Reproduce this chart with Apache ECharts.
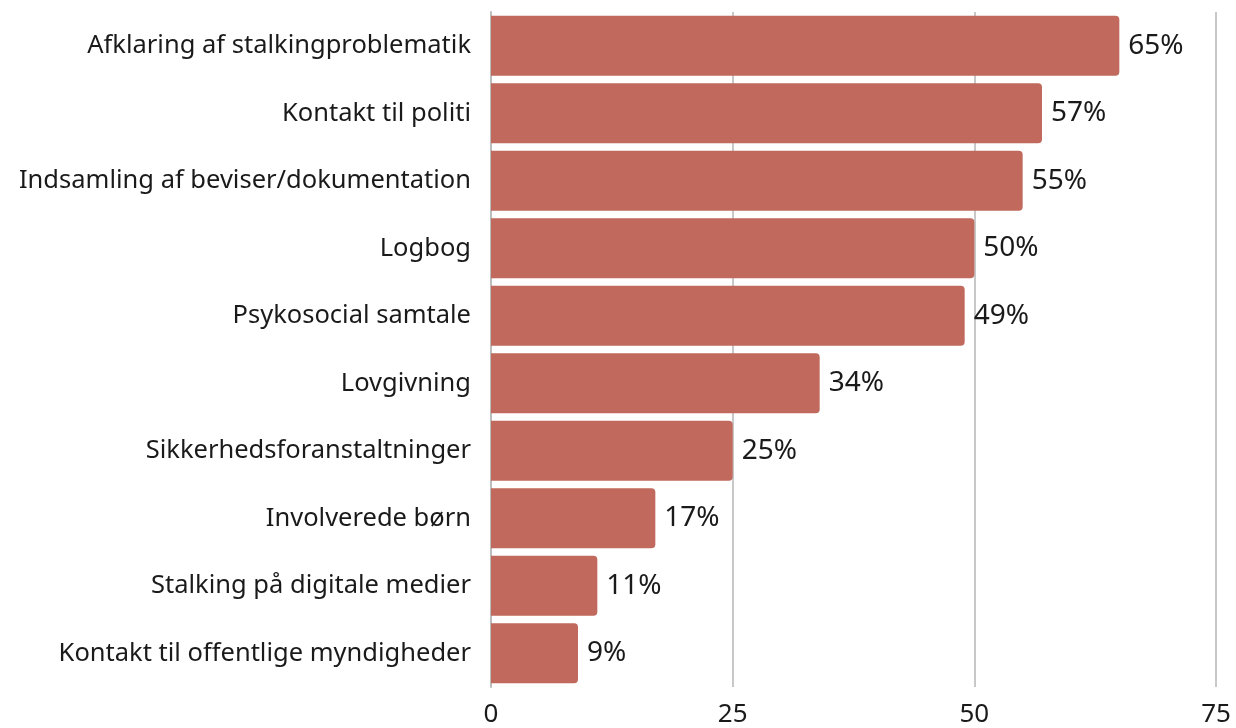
<!DOCTYPE html>
<html>
<head>
<meta charset="utf-8">
<script src="https://cdn.jsdelivr.net/npm/echarts@6/dist/echarts.min.js"></script>
<style>
  html, body { margin: 0; padding: 0; background: #fff; }
  #chart { width: 1236px; height: 728px; }
</style>
</head>
<body>
<div id="chart"></div>
<script>
// kategorier og andele (%)
var categories = [
    'Afklaring af stalkingproblematik',
    'Kontakt til politi',
    'Indsamling af beviser/dokumentation',
    'Logbog',
    'Psykosocial samtale',
    'Lovgivning',
    'Sikkerhedsforanstaltninger',
    'Involverede børn',
    'Stalking på digitale medier',
    'Kontakt til offentlige myndigheder'
];
var values = [65, 57, 55, 50, 49, 34, 25, 17, 11, 9];
var xTicks = [0, 25, 50, 75];

var myChart = echarts.init(document.getElementById('chart'));
var fontFam = '"Noto Sans", sans-serif';

var option = {
    backgroundColor: '#ffffff',
    animation: false,
    grid: {
        left: 491,
        right: 20,
        top: 12,
        bottom: 40
    },
    xAxis: {
        type: 'value',
        min: xTicks[0],
        max: xTicks[xTicks.length - 1],
        interval: 25,
        axisLine: { show: false },
        axisTick: { show: false },
        splitLine: { lineStyle: { color: '#c8c8c8', width: 2 } },
        axisLabel: {
            fontSize: 26,
            fontFamily: fontFam,
            color: '#1a1a1a',
            margin: 15
        }
    },
    yAxis: {
        type: 'category',
        inverse: true,
        data: categories,
        axisLine: { show: true, lineStyle: { color: '#bdbdbd', width: 2 } },
        axisTick: { show: false },
        axisLabel: {
            fontSize: 25.5,
            fontFamily: fontFam,
            color: '#1a1a1a',
            margin: 20,
            padding: [4, 0, 0, 0]
        }
    },
    series: [
        {
            type: 'bar',
            data: values,
            barCategoryGap: '11%',
            itemStyle: {
                color: '#c0695c',
                borderRadius: [0, 4, 4, 0]
            },
            label: {
                show: true,
                position: 'right',
                distance: 9,
                formatter: '{c}%',
                fontSize: 28,
                fontFamily: fontFam,
                color: '#1a1a1a',
                padding: [4, 0, 0, 0]
            }
        }
    ]
};
myChart.setOption(option);
</script>
</body>
</html>
